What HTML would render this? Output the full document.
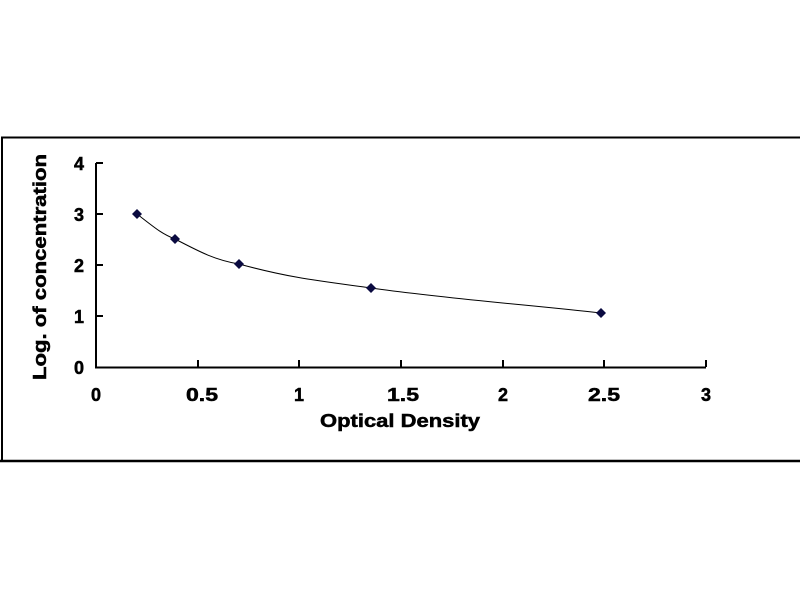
<!DOCTYPE html>
<html><head><meta charset="utf-8"><style>
html,body{margin:0;padding:0;background:#fff;}
svg{display:block;}
text{font-family:"Liberation Sans",Arial,sans-serif;font-weight:bold;fill:#000;stroke:#000;stroke-width:0.5;}
</style></head><body>
<svg width="800" height="600" viewBox="0 0 800 600" xmlns="http://www.w3.org/2000/svg">
<rect x="0" y="0" width="800" height="600" fill="#fff"/>
<path d="M2 462 V137.5 H802" fill="none" stroke="#000" stroke-width="2"/>
<line x1="0" y1="461" x2="800" y2="461" stroke="#000" stroke-width="2.5"/>
<path d="M96 163 V367.5 H706" fill="none" stroke="#000" stroke-width="2"/>
<g stroke="#000" stroke-width="2">
<line x1="96" y1="163" x2="103" y2="163"/>
<line x1="96" y1="214" x2="103" y2="214"/>
<line x1="96" y1="265" x2="103" y2="265"/>
<line x1="96" y1="316" x2="103" y2="316"/>
<line x1="198" y1="367" x2="198" y2="360"/>
<line x1="299" y1="367" x2="299" y2="360"/>
<line x1="401" y1="367" x2="401" y2="360"/>
<line x1="503" y1="367" x2="503" y2="360"/>
<line x1="604" y1="367" x2="604" y2="360"/>
<line x1="706" y1="367" x2="706" y2="360"/>
</g>
<g font-size="18" text-anchor="end">
<text x="84" y="170">4</text>
<text x="84" y="221">3</text>
<text x="84" y="272">2</text>
<text x="84" y="323">1</text>
<text x="84" y="374">0</text>
</g>
<g font-size="18" text-anchor="middle">
<text x="96" y="401">0</text>
<text x="202" y="401" textLength="32" lengthAdjust="spacingAndGlyphs">0.5</text>
<text x="299" y="401">1</text>
<text x="403" y="401" textLength="32" lengthAdjust="spacingAndGlyphs">1.5</text>
<text x="503" y="401">2</text>
<text x="604" y="401" textLength="32" lengthAdjust="spacingAndGlyphs">2.5</text>
<text x="706" y="401">3</text>
</g>
<text x="320" y="427" font-size="18" textLength="160" lengthAdjust="spacingAndGlyphs">Optical Density</text>
<text transform="translate(46 380) rotate(-90)" font-size="18" textLength="226" lengthAdjust="spacingAndGlyphs">Log. of concentration</text>
<path d="M137 214 C155 228 162 234 175 239 C200 252 215 260 239 264 C290 278 320 281 371 288 C450 299 530 305 601 313" fill="none" stroke="#000" stroke-width="1"/>
<g fill="#0a0a40">
<path d="M137 209 L142 214 L137 219 L132 214Z"/>
<path d="M175 234 L180 239 L175 244 L170 239Z"/>
<path d="M239 259 L244 264 L239 269 L234 264Z"/>
<path d="M371 283 L376 288 L371 293 L366 288Z"/>
<path d="M601 308 L606 313 L601 318 L596 313Z"/>
</g>
</svg>
</body></html>
